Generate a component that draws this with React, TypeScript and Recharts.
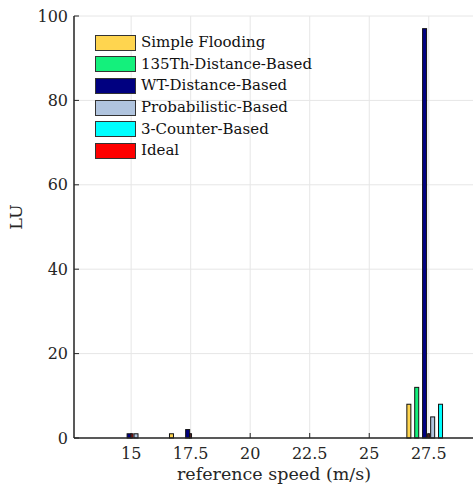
import { ComposedChart, Bar, XAxis, YAxis, CartesianGrid, Legend } from 'recharts';

const speeds = [14.92, 15.04, 15.21, 16.7, 17.38, 17.5, 26.67, 27.0, 27.33, 27.5, 27.67, 28.0];
const simpleFlooding = [0, 0, 0, 1, 0, 0, 8, 0, 0, 0, 0, 0];
const th135Distance = [0, 0, 0, 0, 0, 0, 0, 12, 0, 0, 0, 0];
const wtDistance = [1, 0, 0, 0, 2, 0, 0, 0, 97, 0, 0, 0];
const probabilistic = [0, 0, 1, 0, 0, 0, 0, 0, 0, 0, 5, 0];
const counter3 = [0, 0, 0, 0, 0, 0, 0, 0, 0, 0, 0, 8];
const ideal = [0, 1, 0, 0, 0, 1, 0, 0, 0, 1, 0, 0];

const xTicks = [15, 17.5, 20, 22.5, 25, 27.5];
const yTicks = [0, 20, 40, 60, 80, 100];

const seriesKeys = ['sf', 'th', 'wt', 'prob', 'cnt', 'ideal'];
const seriesNames = [
  'Simple Flooding',
  '135Th-Distance-Based',
  'WT-Distance-Based',
  'Probabilistic-Based',
  '3-Counter-Based',
  'Ideal',
];
const seriesColors = ['#FFD54F', '#14F07C', '#000080', '#B0C4DE', '#00FFFF', '#FF0000'];

const data = speeds.map((x, i) => ({
  x,
  sf: simpleFlooding[i],
  th: th135Distance[i],
  wt: wtDistance[i],
  prob: probabilistic[i],
  cnt: counter3[i],
  ideal: ideal[i],
}));

const FONT = '"DejaVu Serif", serif';
const AXIS = '#262626';

function YTick(props: any) {
  const { x, y, payload } = props;
  const ax = x + 6;
  return (
    <g>
      <line x1={ax} x2={ax + 5} y1={y} y2={y} stroke={AXIS} strokeWidth={1} />
      <text x={x} y={y} dy={5.5} textAnchor="end" fontFamily={FONT} fontSize={16} fill="#262626">
        {payload.value}
      </text>
    </g>
  );
}

function XTick(props: any) {
  const { x, y, payload } = props;
  const ay = y - 6;
  return (
    <g>
      <line x1={x} x2={x} y1={ay} y2={ay - 5} stroke={AXIS} strokeWidth={1} />
      <text x={x} y={y} dy={15} textAnchor="middle" fontFamily={FONT} fontSize={16} fill="#262626">
        {payload.value}
      </text>
    </g>
  );
}

function TopTick(props: any) {
  const { x, y } = props;
  return <line x1={x} x2={x} y1={y} y2={y + 5} stroke={AXIS} strokeWidth={1} />;
}

// fixed-width bar centred on the library's slot, so tight x spacing doesn't shrink it
function makeShape(w: number) {
  return function BarShape(props: any) {
    const { x, y, width, height, fill } = props;
    if (!height || height <= 0) return null;
    return (
      <rect
        x={x + width / 2 - w / 2}
        y={y}
        width={w}
        height={height}
        fill={fill}
        stroke="#111"
        strokeWidth={1}
      />
    );
  };
}

const NormalShape = makeShape(4);
const IdealShape = makeShape(2);

function LegendBox() {
  return (
    <div style={{ fontFamily: FONT, fontSize: 15, color: '#111' }}>
      {seriesNames.map((name, i) => (
        <div key={name} style={{ display: 'flex', alignItems: 'center', height: 21.6 }}>
          <div
            style={{
              width: 39,
              height: 14,
              background: seriesColors[i],
              border: '1px solid #333',
              marginRight: 5,
            }}
          />
          <span style={{ lineHeight: '21px' }}>{name}</span>
        </div>
      ))}
    </div>
  );
}

export default function App() {
  return (
    <div style={{ position: 'absolute', left: 0, top: 0, width: 473, height: 495, overflow: 'hidden', background: '#fff' }}>
      <ComposedChart
        width={480}
        height={495}
        data={data}
        margin={{ top: 16, right: 6, bottom: 0, left: 24 }}
      >
        <CartesianGrid xAxisId="bottom" stroke="#E6E6E6" strokeWidth={1} />
        <XAxis
          xAxisId="bottom"
          dataKey="x"
          type="number"
          domain={[12.6, 29.4]}
          ticks={xTicks}
          allowDataOverflow
          height={57}
          tickSize={0}
          tickMargin={6}
          tickLine={false}
          axisLine={{ stroke: AXIS, strokeWidth: 1.5 }}
          tick={<XTick />}
          interval={0}
          label={{
            value: 'reference speed (m/s)',
            position: 'insideBottom',
            offset: 15,
            style: { fontFamily: FONT, fontSize: 17.5, fill: '#262626' },
          }}
        />
        <XAxis
          xAxisId="top"
          dataKey="x"
          type="number"
          orientation="top"
          domain={[12.6, 29.4]}
          ticks={xTicks}
          allowDataOverflow
          height={0}
          tickSize={0}
          tickMargin={0}
          tickLine={false}
          axisLine={{ stroke: AXIS, strokeWidth: 1.5 }}
          tick={<TopTick />}
          interval={0}
        />
        <YAxis
          domain={[0, 100]}
          ticks={yTicks}
          width={50}
          tickSize={0}
          tickMargin={6}
          tickLine={false}
          axisLine={{ stroke: AXIS, strokeWidth: 1.5 }}
          tick={<YTick />}
          interval={0}
          label={{
            value: 'LU',
            angle: -90,
            position: 'insideLeft',
            offset: -8,
            dy: -10,
            style: { fontFamily: FONT, fontSize: 17.5, fill: '#262626', textAnchor: 'middle' },
          }}
        />
        <Legend
          layout="vertical"
          align="center"
          verticalAlign="middle"
          content={() => <LegendBox />}
          wrapperStyle={{ left: 95, top: 32, width: 'auto' }}
        />
        {seriesKeys.map((k, i) => (
          <Bar
            key={k}
            xAxisId="bottom"
            dataKey={k}
            name={seriesNames[i]}
            stackId="s"
            fill={seriesColors[i]}
            isAnimationActive={false}
            shape={k === 'ideal' ? <IdealShape /> : <NormalShape />}
          />
        ))}
      </ComposedChart>
    </div>
  );
}
